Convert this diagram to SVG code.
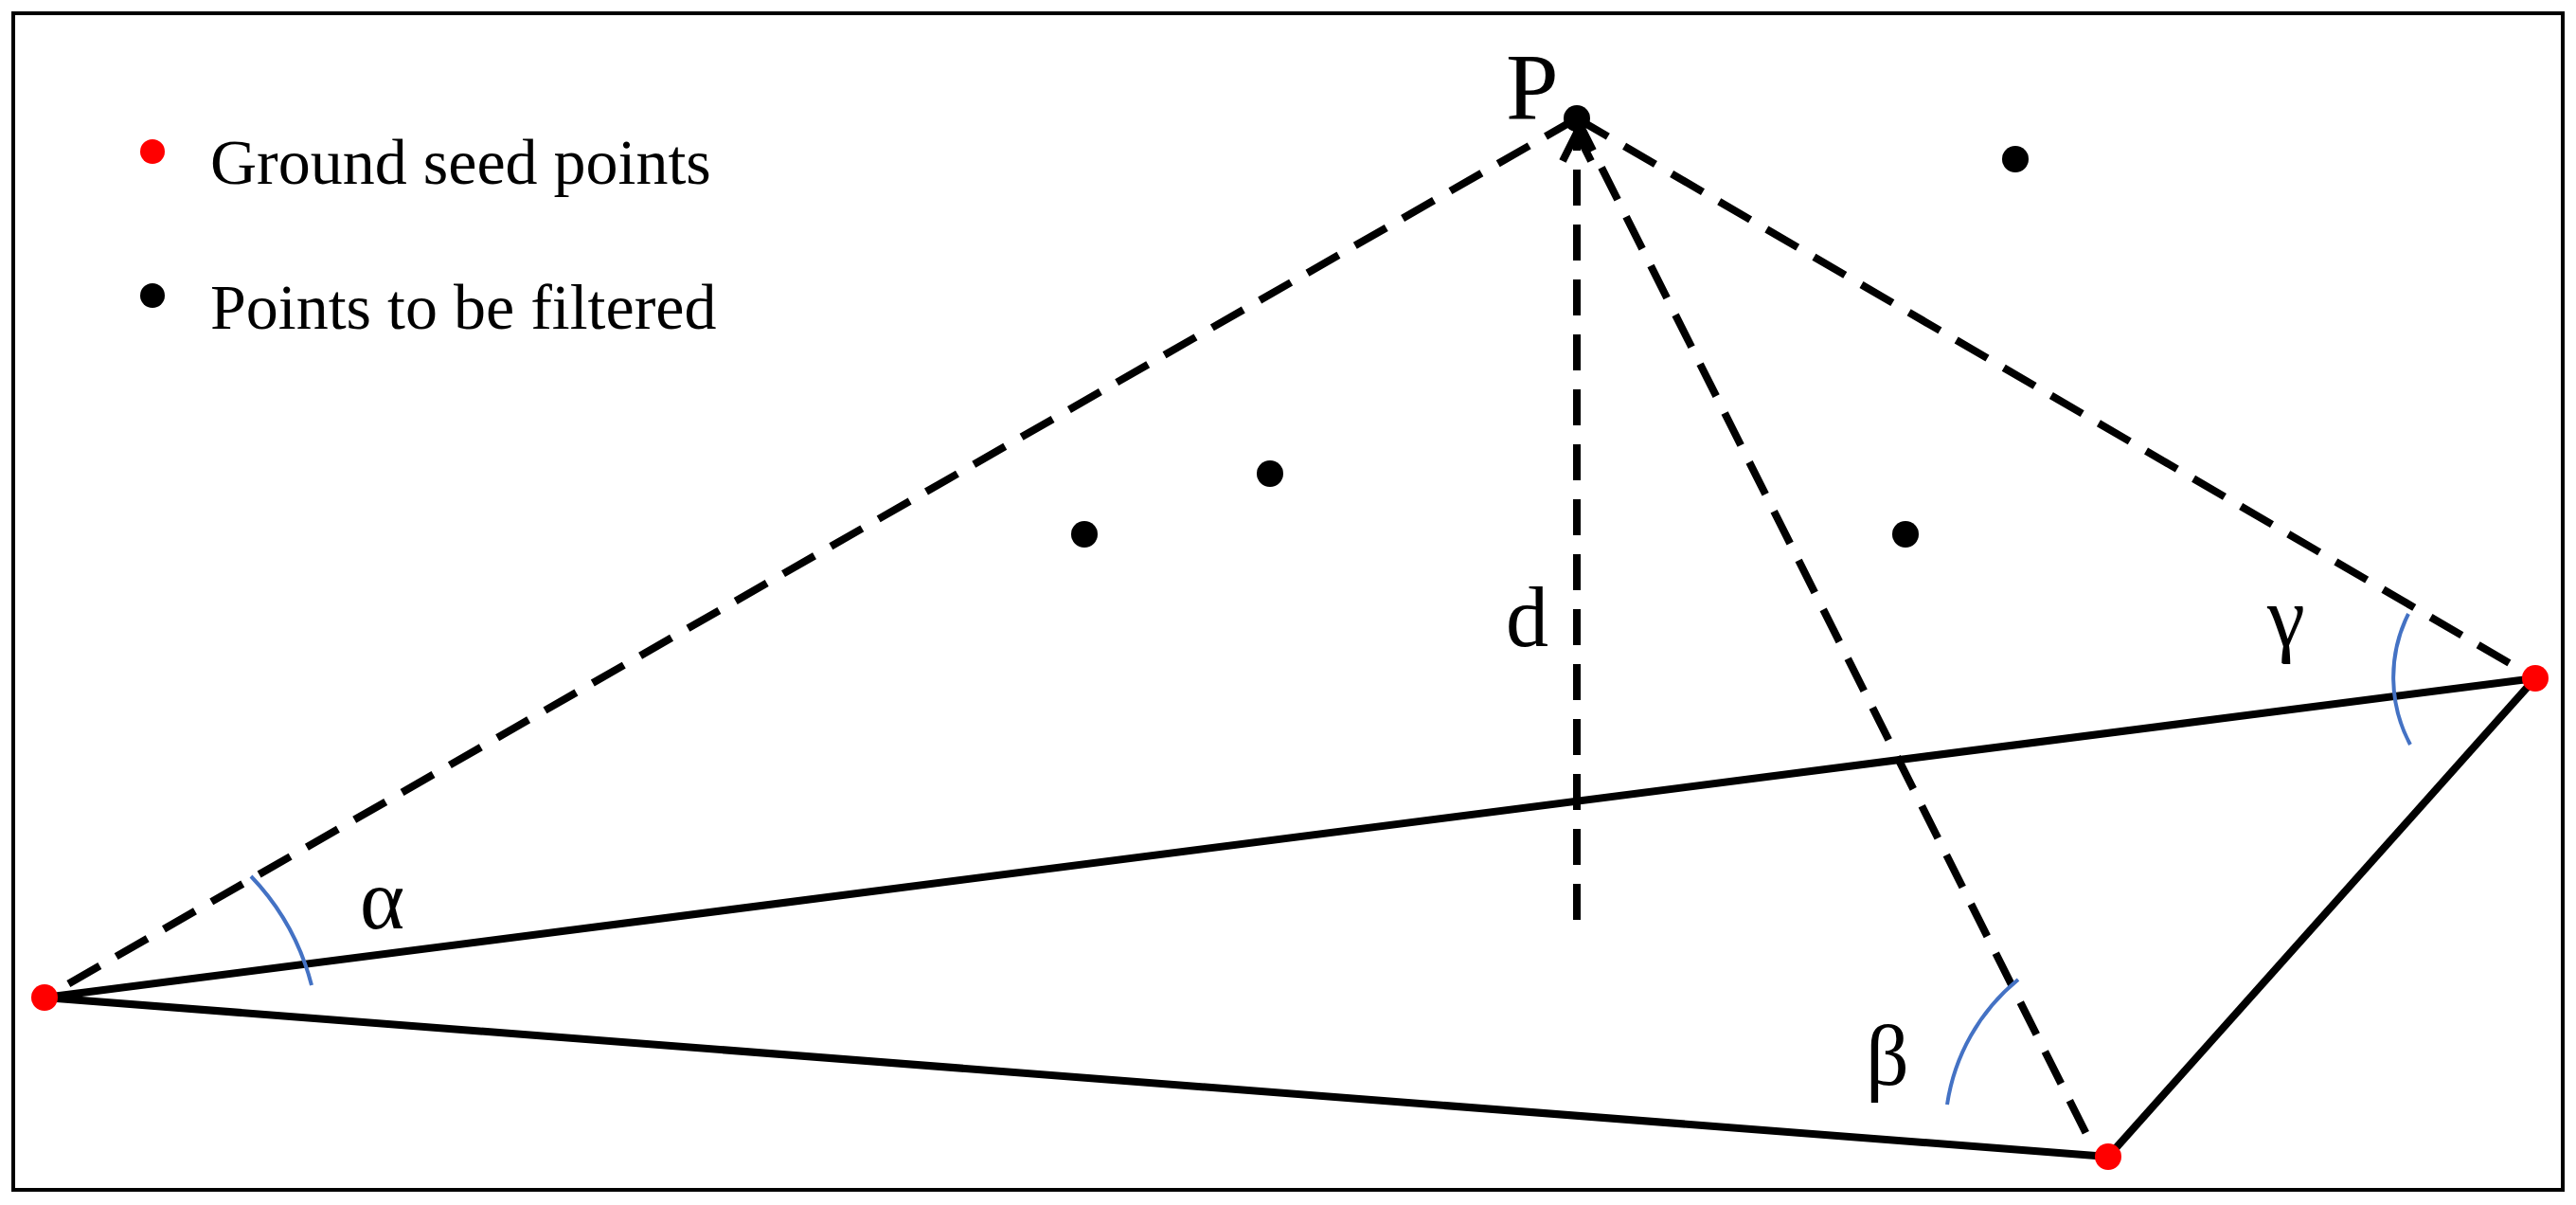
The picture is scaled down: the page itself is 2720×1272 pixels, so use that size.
<svg xmlns="http://www.w3.org/2000/svg" width="2720" height="1272" viewBox="0 0 2720 1272">
<style>
.t{font-family:"Liberation Serif","Times New Roman",serif;fill:#000}
.s{stroke:#000;stroke-width:8;fill:none}
.d{stroke:#000;stroke-width:8;fill:none;stroke-dasharray:38 20}
.a{stroke:#4472c4;stroke-width:4;fill:none}
.r{fill:#ff0000}
.k{fill:#000}
</style>
<rect x="14" y="14" width="2692" height="1242" fill="#fff" stroke="#000" stroke-width="4"/>
<g id="connectors">
<line class="d" x1="1665" y1="125" x2="47" y2="1053"/>
<line class="d" x1="1665" y1="125" x2="2677" y2="716"/>
<line class="d" x1="1665" y1="125" x2="2203" y2="1197"/>
<line class="d" x1="1665" y1="971" x2="1665" y2="135"/>
<path class="s" d="M1665,140 L1650,170 M1665,140 L1680,170"/>
<line class="s" x1="47" y1="1053" x2="2677" y2="716"/>
<line class="s" x1="47" y1="1053" x2="2226" y2="1221"/>
<line class="s" x1="2226" y1="1221" x2="2677" y2="716"/>
<path class="a" d="M265,925 A260,260 0 0 1 329,1040"/>
<path class="a" d="M2131,1034 A210,210 0 0 0 2056,1166"/>
<path class="a" d="M2543,648 A150,150 0 0 0 2545,786"/>
</g>
<g id="legend">
<circle class="r" cx="161" cy="160" r="13"/>
<text class="t" x="222" y="194" font-size="68">Ground seed points</text>
<circle class="k" cx="161" cy="312" r="13"/>
<text class="t" x="222" y="347" font-size="68">Points to be filtered</text>
</g>
<g id="P"><circle class="k" cx="1665" cy="125" r="14"/><text class="t" x="1590" y="125" font-size="100">P</text></g>
<g id="v1"><circle class="r" cx="47" cy="1053" r="14"/></g>
<g id="v2"><circle class="r" cx="2226" cy="1221" r="14"/></g>
<g id="v3"><circle class="r" cx="2677" cy="716" r="14"/></g>
<g id="pts">
<circle class="k" cx="2128" cy="168" r="14"/>
<circle class="k" cx="1341" cy="500" r="14"/>
<circle class="k" cx="1145" cy="564" r="14"/>
<circle class="k" cx="2012" cy="564" r="14"/>
</g>
<g id="labels">
<text class="t" x="1590" y="682" font-size="90">d</text>
<text class="t" x="380" y="980" font-size="90">α</text>
<text class="t" x="1970" y="1145" font-size="90">β</text>
<text class="t" x="2394" y="682" font-size="90">γ</text>
</g>
</svg>
